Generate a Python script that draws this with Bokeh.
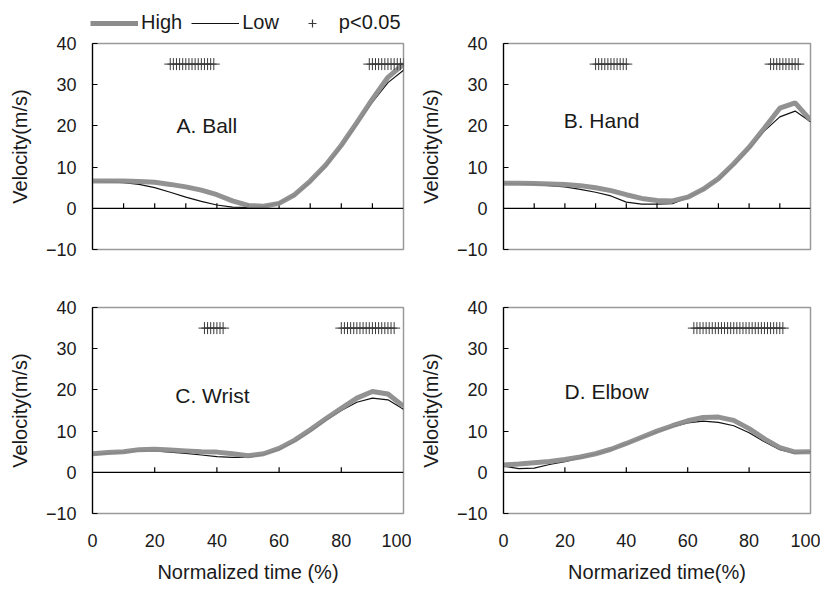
from bokeh.plotting import figure
from bokeh.models import (LinearAxis, FixedTicker, Range1d, Label, Legend, LegendItem, Span)
from bokeh.layouts import gridplot, column
from bokeh.embed import file_html
from bokeh.resources import INLINE

# ---------------- data ----------------
time_pct = [0, 5, 10, 15, 20, 25, 30, 35, 40, 45, 50, 55, 60, 65, 70, 75, 80, 85, 90, 95, 100]

ball_high = [6.6, 6.6, 6.6, 6.5, 6.3, 5.8, 5.2, 4.4, 3.3, 1.8, 0.7, 0.5, 1.2, 3.3, 6.6, 10.5, 15.3, 20.8, 26.5, 31.8, 35.0]
ball_low = [6.5, 6.4, 6.2, 5.8, 5.0, 3.9, 2.7, 1.7, 0.8, 0.3, 0.2, 0.4, 1.3, 3.2, 6.4, 10.3, 15.0, 20.4, 25.8, 30.5, 33.5]

hand_high = [6.1, 6.1, 6.0, 5.9, 5.8, 5.5, 5.0, 4.3, 3.3, 2.4, 1.9, 1.8, 2.7, 4.6, 7.2, 10.8, 14.8, 19.5, 24.3, 25.6, 21.4]
hand_low = [6.0, 5.9, 5.8, 5.5, 5.2, 4.6, 3.9, 3.0, 1.5, 1.0, 1.0, 1.1, 2.6, 4.5, 7.0, 10.5, 14.5, 18.8, 22.2, 23.6, 21.0]

wrist_high = [4.5, 4.8, 5.0, 5.5, 5.6, 5.4, 5.2, 5.0, 4.9, 4.5, 4.0, 4.5, 5.8, 7.8, 10.3, 13.0, 15.5, 18.0, 19.6, 19.0, 16.0]
wrist_low = [4.3, 4.6, 4.9, 5.2, 5.2, 4.9, 4.6, 4.2, 3.8, 3.6, 3.6, 4.3, 5.5, 7.5, 9.9, 12.6, 15.0, 17.0, 18.0, 17.6, 15.3]

elbow_high = [1.8, 2.0, 2.3, 2.6, 3.1, 3.7, 4.5, 5.6, 7.0, 8.5, 10.0, 11.3, 12.5, 13.3, 13.4, 12.6, 10.6, 8.1, 6.0, 4.9, 5.0]
elbow_low = [1.5, 0.9, 1.0, 1.9, 2.6, 3.5, 4.4, 5.5, 6.9, 8.4, 9.8, 11.0, 12.0, 12.4, 12.1, 11.3, 9.6, 7.4, 5.5, 4.6, 5.0]

# time points (%) with p<0.05
sig_ball = [25, 26, 27, 28, 29, 30, 31, 32, 33, 34, 35, 36, 37, 38, 39,
            89, 90, 91, 92, 93, 94, 95, 96, 97, 98, 99, 100]
sig_hand = [30, 31, 32, 33, 34, 35, 36, 37, 38, 39, 40,
            87, 88, 89, 90, 91, 92, 93, 94, 95, 96]
sig_wrist = [36, 37, 38, 39, 40, 41, 42,
             80, 81, 82, 83, 84, 85, 86, 87, 88, 89, 90, 91, 92, 93, 94, 95, 96, 97]
sig_elbow = [62, 63, 64, 65, 66, 67, 68, 69, 70, 71, 72, 73, 74, 75, 76, 77, 78, 79,
             80, 81, 82, 83, 84, 85, 86, 87, 88, 89, 90, 91]
sig_level = 35

y_ticks = [-10, 0, 10, 20, 30, 40]
x_ticks_fine = [10, 20, 30, 40, 50, 60, 70, 80, 90]
x_ticks_coarse = [0, 20, 40, 60, 80, 100]
x_ticks_coarse_inner = [20, 40, 60, 80]

legend_labels = ["High", "Low", "p<0.05"]

FONT = "Liberation Sans"
TXT = "#1a1a1a"
HIGH_C = "#8c8c8c"
LOW_C = "#111111"
SIG_C = "#3a3a3a"
TICK_H = 1.2  # height of the tick marks on the zero line (style)


def make_panel(name, high, low, sig, lab_x, lab_y, zero_ticks, xlabel,
               frame_w, bl, br, bt, bb):
    p = figure(frame_width=frame_w, frame_height=206,
               x_range=Range1d(0, 100), y_range=Range1d(-10, 40),
               x_axis_location=None, y_axis_location="left",
               toolbar_location=None, output_backend="svg",
               min_border_left=bl, min_border_right=br,
               min_border_top=bt, min_border_bottom=bb)
    p.grid.visible = False
    p.outline_line_color = "#9a9a9a"
    p.outline_line_width = 1.5
    p.background_fill_color = "white"
    p.border_fill_color = "white"

    ya = p.yaxis[0]
    ya.ticker = FixedTicker(ticks=y_ticks)
    ya.axis_line_color = "black"
    ya.axis_line_width = 1.2
    ya.major_tick_in = 5
    ya.major_tick_out = 0
    ya.major_tick_line_color = "black"
    ya.minor_tick_line_color = None
    ya.major_label_text_font = FONT
    ya.major_label_text_font_size = "18px"
    ya.major_label_text_color = TXT
    ya.major_label_standoff = 16
    ya.axis_label = "Velocity(m/s)"
    ya.axis_label_text_font = FONT
    ya.axis_label_text_font_size = "20px"
    ya.axis_label_text_font_style = "normal"
    ya.axis_label_text_color = TXT
    ya.axis_label_standoff = 12

    # zero line with tick marks pointing up
    p.add_layout(Span(location=0, dimension="width", line_color="black", line_width=1.2))
    p.segment(x0=zero_ticks, y0=[0] * len(zero_ticks), x1=zero_ticks,
              y1=[TICK_H] * len(zero_ticks), line_color="black", line_width=1.2)

    if xlabel:
        xa = LinearAxis(ticker=FixedTicker(ticks=x_ticks_coarse),
                        axis_line_color=None, major_tick_line_color=None,
                        minor_tick_line_color=None, major_tick_in=0, major_tick_out=0,
                        major_label_text_font=FONT, major_label_text_font_size="18px",
                        major_label_text_color=TXT, major_label_standoff=20,
                        axis_label=xlabel, axis_label_text_font=FONT,
                        axis_label_text_font_size="20px",
                        axis_label_text_font_style="normal",
                        axis_label_text_color=TXT, axis_label_standoff=11)
        p.add_layout(xa, "below")

    p.line(time_pct, low, line_color=LOW_C, line_width=1.2)
    p.line(time_pct, high, line_color=HIGH_C, line_width=5, line_alpha=0.95)
    p.scatter(sig, [sig_level] * len(sig), marker="cross", size=12,
              line_color=SIG_C, line_width=1)

    p.add_layout(Label(x=lab_x, y=lab_y, text=name, text_font=FONT,
                       text_font_size="21px", text_color=TXT,
                       text_baseline="middle", text_align="left"))
    return p


LEG_H = 34
TOP_T, TOP_B = 9, 22
BOT_T, BOT_B = 36, 77

pA = make_panel("A. Ball", ball_high, ball_low, sig_ball, 27, 20,
                x_ticks_fine, None, 311, 92, 8, TOP_T, TOP_B)
pB = make_panel("B. Hand", hand_high, hand_low, sig_hand, 19.6, 21.3,
                x_ticks_fine, None, 307, 92, 10, TOP_T, TOP_B)
pC = make_panel("C. Wrist", wrist_high, wrist_low, sig_wrist, 26.6, 18.6,
                x_ticks_coarse_inner, "Normalized time (%)", 311, 92, 8, BOT_T, BOT_B)
pD = make_panel("D. Elbow", elbow_high, elbow_low, sig_elbow, 19.9, 19.5,
                x_ticks_coarse_inner, "Normarized time(%)", 307, 92, 10, BOT_T, BOT_B)

# legend strip above the grid; its sample renderers sit outside the visible range
lg = figure(width=820, height=LEG_H, x_range=Range1d(0, 1), y_range=Range1d(0, 1),
            x_axis_location=None, y_axis_location=None, toolbar_location=None,
            output_backend="svg", min_border=0)
lg.grid.visible = False
lg.outline_line_color = None
lg_high = lg.line([5, 6], [5, 6], line_color=HIGH_C, line_width=5)
lg_low = lg.line([5, 6], [5, 6], line_color=LOW_C, line_width=1.2)
lg_sig = lg.scatter([5], [5], marker="cross", size=10, line_color=SIG_C, line_width=1.2)
legend = Legend(items=[LegendItem(label=legend_labels[0], renderers=[lg_high]),
                       LegendItem(label=legend_labels[1], renderers=[lg_low]),
                       LegendItem(label=legend_labels[2], renderers=[lg_sig])],
                orientation="horizontal", location=(90, 0),
                glyph_width=48, glyph_height=20, label_height=20,
                label_standoff=3, spacing=9, padding=0, margin=0,
                border_line_color=None, background_fill_alpha=0,
                label_text_font=FONT, label_text_font_size="20px",
                label_text_color=TXT)
lg.add_layout(legend, "center")

grid = gridplot([[pA, pB], [pC, pD]], toolbar_location=None)

open("out.html", "w").write(file_html(column(lg, grid), INLINE))
